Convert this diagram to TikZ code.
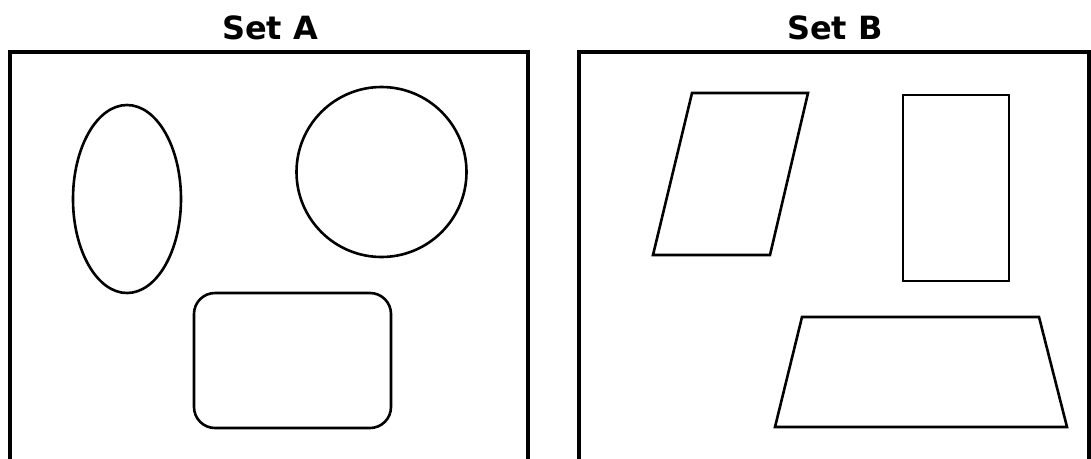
\documentclass[tikz,border=0pt]{standalone}
\usepackage{fontspec}
\setmainfont{DejaVu Sans}
\usepackage{tikz}
\usetikzlibrary{positioning}

\begin{document}
\begin{tikzpicture}[
  x=1pt, y=-1pt,
  frame/.style={draw, line width=3.2pt},
  outline/.style={draw, line width=2.6pt, line join=miter},
  title/.style={font=\fontsize{32}{36}\selectfont\bfseries, inner sep=0pt, anchor=center},
]
  \useasboundingbox (0,0) rectangle (1091,458);

  % titles
  \node[title] (titleA) at (270,28) {Set A};
  \node[title] (titleB) at (835,28) {Set B};

  % the two sets
  \draw[frame] (10,460) |- (528,52) -- (528,460);
  \draw[frame] (579,460) |- (1089,52) -- (1089,460);

  % Set A: curved shapes
  \draw[outline] (127,199) ellipse [x radius=54, y radius=94];
  \draw[outline] (381.5,172) circle [radius=85];
  \draw[outline, rounded corners=21pt] (194,293) rectangle (391,428);

  % Set B: straight-sided shapes
  \draw[outline] (692,93) -- (808,93) -- (770,255) -- (653,255) -- cycle;
  \draw[outline] (903,95) rectangle (1009,281);
  \draw[outline] (802,317) -- (1039,317) -- (1067,427) -- (775,427) -- cycle;
\end{tikzpicture}
\end{document}
